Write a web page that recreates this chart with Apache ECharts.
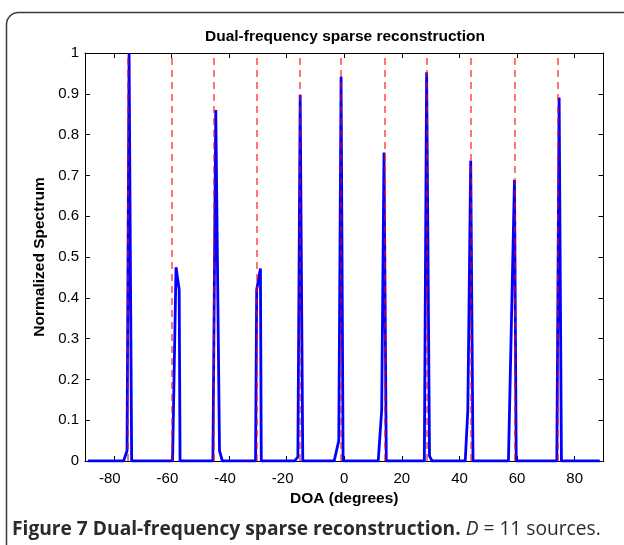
<!DOCTYPE html>
<html>
<head>
<meta charset="utf-8">
<title>Dual-frequency sparse reconstruction</title>
<script src="https://cdn.jsdelivr.net/npm/echarts@6/dist/echarts.min.js"></script>
<style>
  html, body { margin: 0; padding: 0; background: #ffffff; }
  #chart { width: 624px; height: 545px; }
</style>
</head>
<body>
<div id="chart"></div>
<script>
// Reconstructed spatial spectrum (DOA in degrees, normalized amplitude)
const doaDeg = [-89, -76.6, -75.4, -74.7, -73.8, -59.6, -58.4, -57.3, -57.0,
  -45.6, -44.6, -43.3, -42.3, -30.8, -30.4, -29.1, -28.8, -17.2, -16.1, -15.3, -14.4,
  -3.5, -1.9, -1.1, -0.4, 11.8, 13.0, 13.8, 14.6, 27.8, 28.6, 29.6, 30.5,
  42.0, 42.9, 43.9, 44.7, 57.0, 59.1, 59.7, 73.8, 74.6, 75.4, 88.7];
const spectrum = [0, 0, 0.025, 1.0, 0, 0, 0.475, 0.42, 0,
  0, 0.86, 0.025, 0, 0, 0.42, 0.472, 0, 0, 0.01, 0.897, 0,
  0, 0.05, 0.942, 0, 0, 0.125, 0.756, 0, 0, 0.953, 0.012, 0,
  0, 0.125, 0.736, 0, 0, 0.689, 0, 0, 0.891, 0, 0];

// True source directions (dashed reference lines)
const sourceDoa = [-75, -60, -45.2, -30.3, -15.3, -1.2, 13.9, 28.7, 44.0, 59.1, 74.0];

// Tick values
const xTicks = [-80, -60, -40, -20, 0, 20, 40, 60, 80];

const plotFont = "'Liberation Sans', Arial, Helvetica, sans-serif";
const tickSize = 15;
const labelSize = 15.5;

const chart = echarts.init(document.getElementById('chart'), null, { renderer: 'canvas' });

const axisLineStyle = { show: true, onZero: false, lineStyle: { color: '#000', width: 1 } };
const tickStyle = { show: true, inside: true, length: 5, lineStyle: { color: '#000', width: 1 } };

chart.setOption({
  backgroundColor: '#ffffff',
  animation: false,
  title: {
    text: 'Dual-frequency sparse reconstruction',
    left: 340,
    textAlign: 'center',
    top: 24,
    textStyle: { fontFamily: plotFont, fontSize: labelSize, fontWeight: 'bold', color: '#000' }
  },
  grid: { left: 85, top: 53, width: 518.5, height: 408, containLabel: false },
  xAxis: [{
    type: 'value',
    position: 'bottom',
    min: -90, max: 90,
    axisLine: axisLineStyle,
    axisTick: Object.assign({ customValues: xTicks }, tickStyle),
    axisLabel: {
      customValues: xTicks,
      margin: 10,
      fontFamily: plotFont, fontSize: tickSize, color: '#000',
      formatter: v => v < 0 ? '{n|' + v + '}' : String(v),
      rich: { n: { fontFamily: plotFont, fontSize: tickSize, color: '#000', padding: [0, 8, 0, 0] } }
    },
    splitLine: { show: false },
    name: 'DOA (degrees)',
    nameLocation: 'middle',
    nameGap: 26,
    nameTextStyle: { fontFamily: plotFont, fontSize: labelSize, fontWeight: 'bold', color: '#000' }
  }, {
    type: 'value',
    position: 'top',
    min: -90, max: 90,
    axisLine: axisLineStyle,
    axisTick: Object.assign({ customValues: xTicks }, tickStyle),
    axisLabel: { show: false, customValues: xTicks },
    splitLine: { show: false }
  }],
  yAxis: [{
    type: 'value',
    position: 'left',
    min: 0, max: 1, interval: 0.1,
    axisLine: axisLineStyle,
    axisTick: tickStyle,
    axisLabel: { margin: 6, fontFamily: plotFont, fontSize: tickSize, color: '#000' },
    splitLine: { show: false },
    name: 'Normalized Spectrum',
    nameLocation: 'middle',
    nameGap: 37,
    nameRotate: 90,
    nameTextStyle: { fontFamily: plotFont, fontSize: labelSize, fontWeight: 'bold', color: '#000' }
  }, {
    type: 'value',
    position: 'right',
    min: 0, max: 1, interval: 0.1,
    axisLine: axisLineStyle,
    axisTick: tickStyle,
    axisLabel: { show: false },
    splitLine: { show: false }
  }],
  series: [{
    type: 'line',
    xAxisIndex: 0,
    yAxisIndex: 0,
    data: doaDeg.map((d, i) => [d, spectrum[i]]),
    showSymbol: false,
    symbol: 'none',
    clip: true,
    lineStyle: { color: '#0000ff', width: 2.8 },
    markLine: {
      silent: true,
      symbol: ['none', 'none'],
      label: { show: false },
      lineStyle: { color: 'rgba(255,0,0,0.72)', width: 1.5, type: [7, 5] },
      data: sourceDoa.map(v => ({ xAxis: v }))
    },
    z: 3
  }],
  graphic: [{
    type: 'rect',
    shape: { x: 6.5, y: 12.5, width: 640, height: 560, r: 12 },
    style: { fill: 'none', stroke: '#3a3a3a', lineWidth: 1.5 },
    silent: true,
    z: -1
  }, {
    type: 'text',
    left: 12,
    top: 520,
    style: {
      text: '{b|Figure 7 Dual-frequency sparse reconstruction.} {i|D} = 11 sources.',
      font: '19.2px "Open Sans", sans-serif',
      fill: '#2b2b2b',
      rich: {
        b: { fontFamily: 'Open Sans', fontSize: 19.2, fontWeight: 'bold', fill: '#2b2b2b', color: '#2b2b2b' },
        i: { fontFamily: 'Open Sans', fontSize: 19.2, fontStyle: 'italic', fill: '#2b2b2b', color: '#2b2b2b' }
      }
    }
  }]
});
</script>
</body>
</html>
